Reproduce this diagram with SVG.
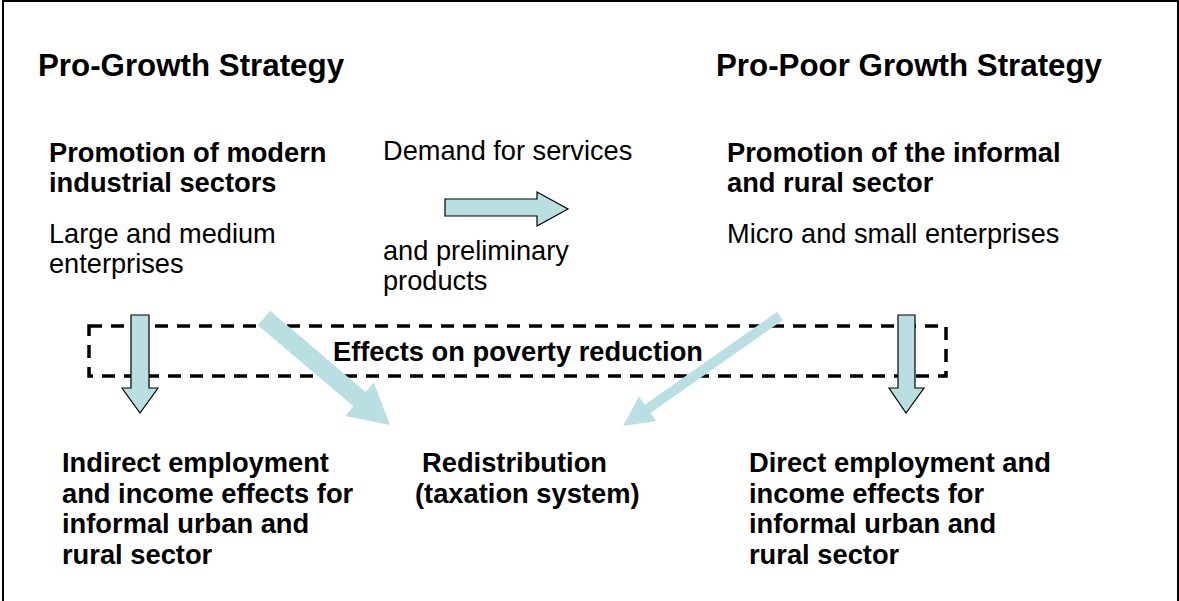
<svg xmlns="http://www.w3.org/2000/svg" width="1179" height="601" viewBox="0 0 1179 601">
<defs>
<style>
text{font-family:"Liberation Sans",Arial,sans-serif;fill:#000;}
.t{font-size:31.3px;font-weight:bold;}
.b{font-size:27.3px;font-weight:bold;}
.r{font-size:27.2px;}
.blk{fill:#B9DFE2;stroke:#000;stroke-width:1.2;stroke-linejoin:miter;}
.diag{fill:#B9DFE2;stroke:none;}
.dash{fill:none;stroke:#000;stroke-width:3.5;stroke-dasharray:13 9;}
</style>
</defs>
<rect x="3" y="1" width="1175" height="640" fill="#fff" stroke="#000" stroke-width="2"/>
<g id="pro-growth">
<text class="t" x="38" y="76">Pro-Growth Strategy</text>
</g>
<g id="pro-poor">
<text class="t" x="716" y="76">Pro-Poor Growth Strategy</text>
</g>
<g id="modern-sectors">
<text class="b" x="49" y="162">Promotion of modern</text>
<text class="b" x="49" y="192">industrial sectors</text>
<text class="r" x="49" y="243">Large and medium</text>
<text class="r" x="49" y="273">enterprises</text>
</g>
<g id="demand">
<text class="r" x="383" y="160">Demand for services</text>
<text class="r" x="383" y="260">and preliminary</text>
<text class="r" x="383" y="290">products</text>
</g>
<g id="informal-sector">
<text class="b" x="727" y="162">Promotion of the informal</text>
<text class="b" x="727" y="192">and rural sector</text>
<text class="r" x="727" y="243">Micro and small enterprises</text>
</g>
<g id="effects">
<rect class="dash" x="89" y="326" width="857" height="50"/>
<text class="b" x="518" y="361" text-anchor="middle">Effects on poverty reduction</text>
</g>
<g id="indirect">
<text class="b" x="62" y="472">Indirect employment</text>
<text class="b" x="62" y="502.5">and income effects for</text>
<text class="b" x="62" y="533">informal urban and</text>
<text class="b" x="62" y="564">rural sector</text>
</g>
<g id="redistribution">
<text class="b" x="422" y="472">Redistribution</text>
<text class="b" x="415" y="502.5">(taxation system)</text>
</g>
<g id="direct">
<text class="b" x="749" y="472">Direct employment and</text>
<text class="b" x="749" y="502.5">income effects for</text>
<text class="b" x="749" y="533">informal urban and</text>
<text class="b" x="749" y="564">rural sector</text>
</g>
<g id="connectors">
<polygon class="blk" points="445,199 537,199 537,192 568,209 537,226 537,216 445,216"/>
<polygon class="blk" points="131,315 149,315 149,388 158,388 140,413 122,388 131,388"/>
<polygon class="blk" points="898,315 915,315 915,388 924,388 906,413 889,388 898,388"/>
<polygon class="diag" points="257.9,325.2 270.1,310.8 365.6,391.9 373.7,382.3 390,425 345.3,415.9 353.4,406.3"/>
<polygon class="diag" points="777.1,311.9 782.9,320.1 650.5,412.9 656.2,421.1 623,426 639,396.5 644.7,404.7"/>
</g>
</svg>
